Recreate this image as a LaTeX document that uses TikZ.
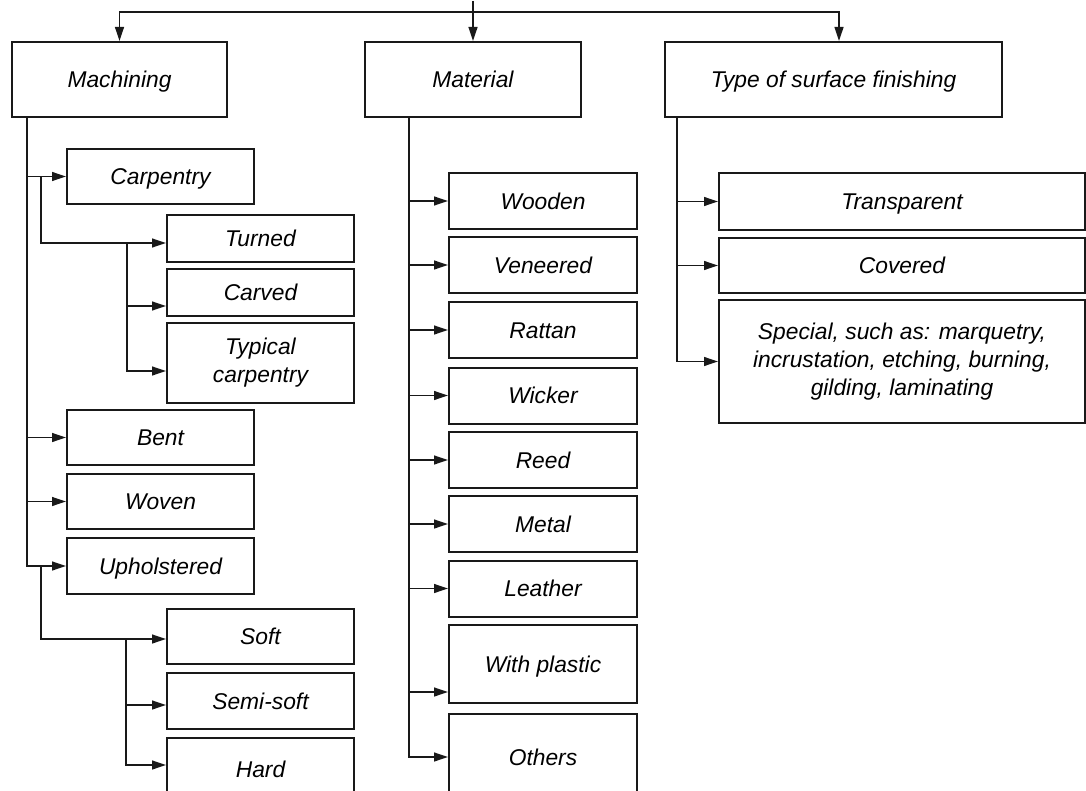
\documentclass[tikz,border=0pt]{standalone}
\usepackage{fontspec}
\setmainfont{Liberation Sans}
\usetikzlibrary{arrows.meta,positioning}
\definecolor{linecol}{RGB}{25,25,25}

\begin{document}
\begin{tikzpicture}[x=0.5pt,y=-0.5pt,
  box/.style={draw=linecol,line width=1pt,inner sep=1pt,align=center,
    text height=8.2pt,text depth=0pt,font=\fontsize{11.4}{14}\selectfont\itshape},
  multi/.style={text height={},text depth={}},
  arr/.style={draw=linecol,line width=0.95pt,-{Triangle[length=7pt,width=4.4pt]}}]
  \useasboundingbox (0,0) rectangle (1086,791);
  \clip (0,0) rectangle (1086,791);
  % top level
  \node[box,minimum width=107.5pt,minimum height=37.5pt] (mach) at (119.5,79.5) {Machining};
  \node[box,minimum width=108pt,minimum height=37.5pt] (mat) at (473,79.5) {Material};
  \node[box,minimum width=168.5pt,minimum height=37.5pt] (surf) at (833.5,79.5) {Type of surface finishing};
  % machining column
  \foreach \n/\txt/\cy/\h in {carp/Carpentry/176.5/27.5,bent/Bent/437.5/27.5,
      woven/Woven/501.5/27.5,uph/Upholstered/566/28}
    {\node[box,minimum width=93.5pt,minimum height=\h pt] (\n) at (160.5,\cy) {\txt};}
  \foreach \n/\txt/\cy/\h in {turn/Turned/238.5/23.5,carv/Carved/292.5/23.5,
      soft/Soft/636.5/27.5,semi/Semi-soft/701/28,hard/Hard/769/31}
    {\node[box,minimum width=93.5pt,minimum height=\h pt] (\n) at (260.5,\cy) {\txt};}
  \node[box,multi,minimum width=93.5pt,minimum height=40pt] (typ) at (260.5,363) {Typical\\carpentry};
  % material column
  \foreach \n/\txt/\cy/\h in {wood/Wooden/201/28,ven/Veneered/265/28,rat/Rattan/330/28,
      wick/Wicker/395.5/28,reed/Reed/460/28,met/Metal/524/28,lea/Leather/588.5/28,
      wpl/With plastic/664/39,oth/Others/757/43}
    {\node[box,minimum width=94pt,minimum height=\h pt] (\n) at (543,\cy) {\txt};}
  % surface column
  \node[box,minimum width=183pt,minimum height=28.5pt] (transp) at (902,201.5) {Transparent};
  \node[box,minimum width=183pt,minimum height=27.5pt] (cov) at (902,265.5) {Covered};
  \node[box,multi,minimum width=183pt,minimum height=61.5pt] (spec) at (902,361.5)
    {Special, such as: marquetry,\\incrustation, etching, burning,\\gilding, laminating};

  % root
  \coordinate (src) at ([yshift=20pt]mat.north);
  \coordinate (bar) at ([yshift=14.5pt]mat.north);
  \draw[arr] (src) -- (mat.north);
  \draw[arr] (bar) -| (mach.north);
  \draw[arr] (bar) -| ([xshift=2.75pt]surf.north);

  % machining branches
  \path (mach.south west) ++(16,0) coordinate (mj);
  \draw[arr] (mj) |- (uph.west);
  \foreach \n in {carp,bent,woven}{\draw[arr] (mj |- \n.west) -- (\n.west);}
  \path (mj |- carp.west) ++(14,0) coordinate (cj);
  \draw[arr] (cj) |- ([yshift=-2.25pt]turn.west);
  \path ([yshift=-2.25pt]turn.west) ++(-39,0) coordinate (tj);
  \path ([yshift=-6.75pt]carv.west) coordinate (carvin);
  \draw[arr] (tj) |- ([yshift=-4pt]typ.west);
  \draw[arr] (tj |- carvin) -- (carvin);
  \path (mj |- uph.west) ++(14,0) coordinate (uj);
  \draw[arr] (uj) |- ([yshift=-1.25pt]soft.west);
  \path ([yshift=-1.25pt]soft.west) ++(-40,0) coordinate (sj);
  \path ([yshift=-2pt]semi.west) coordinate (semiin);
  \draw[arr] (sj) |- ([yshift=2pt]hard.west);
  \draw[arr] (sj |- semiin) -- (semiin);

  % material branches
  \path (mat.south west) ++(45,0) coordinate (mtj);
  \path ([yshift=-14pt]wpl.west) coordinate (wplin);
  \draw[arr] (mtj) |- (oth.west);
  \foreach \n in {wood,ven,rat,wick,reed,met,lea}{\draw[arr] (mtj |- \n.west) -- (\n.west);}
  \draw[arr] (mtj |- wplin) -- (wplin);

  % surface finishing branches
  \path (surf.south west) ++(13,0) coordinate (fj);
  \draw[arr] (fj) |- (spec.west);
  \foreach \n in {transp,cov}{\draw[arr] (fj |- \n.west) -- (\n.west);}
\end{tikzpicture}
\end{document}
